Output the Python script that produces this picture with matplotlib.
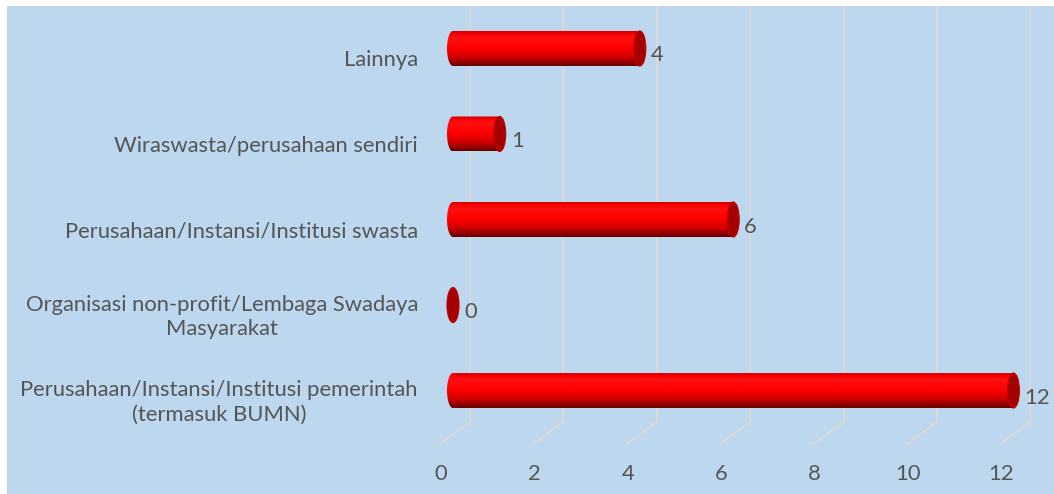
import numpy as np
import matplotlib
matplotlib.use("Agg")
import matplotlib.pyplot as plt
from matplotlib.colors import LinearSegmentedColormap
from matplotlib.patches import Ellipse, Rectangle, PathPatch
from matplotlib.path import Path
from matplotlib.transforms import offset_copy

plt.rcParams['font.family'] = ['Lato', 'DejaVu Sans']

# data (bottom to top)
categories = ["Perusahaan/Instansi/Institusi pemerintah\n(termasuk BUMN)",
              "Organisasi non-profit/Lembaga Swadaya\nMasyarakat",
              "Perusahaan/Instansi/Institusi swasta",
              "Wiraswasta/perusahaan sendiri",
              "Lainnya"]
values = [12, 0, 6, 1, 4]
xticks = [0, 2, 4, 6, 8, 10, 12]

W, H = 1054, 494
bg = '#BDD7EE'
grid_c = '#D9D9D9'
text_c = '#555555'
fs = 15.8

fig = plt.figure(figsize=(W / 100, H / 100), dpi=100, facecolor='white')
fig.patches.append(Rectangle((7 / W, 0), 1, 1 - 6 / H, transform=fig.transFigure,
                             facecolor=bg, edgecolor='none', zorder=-10))

# axes: x=0 at 453px, 46.7 px per unit; y from 422px (bottom) to 7px (top)
px_unit = 46.7
zero_px, left_px, right_px = 453, 430, 1040
ax = fig.add_axes([left_px / W, (H - 422) / H, (right_px - left_px) / W, (422 - 7) / H])
ax.set_xlim(-(zero_px - left_px) / px_unit, (right_px - zero_px) / px_unit)
ax.set_ylim(-0.368, 4.485)
ax.axis('off')
ax.patch.set_alpha(0)

ymin = ax.get_ylim()[0]
ymax = ax.get_ylim()[1]
back = offset_copy(ax.transData, fig=fig, x=17, y=0, units='dots')

# back wall gridlines and floor diagonals
for v in xticks:
    ax.plot([v, v], [ymin, ymax], color=grid_c, lw=1.6, transform=back, clip_on=False, zorder=1)
    start = back.transform((v, ymin))
    end = start + np.array([-30, -22])
    ax.plot([start[0], end[0]], [start[1], end[1]], color=grid_c, lw=1.6,
            transform=None, clip_on=False, zorder=1)
    fx = ax.transData.transform((v, ymin))[0] - 12
    fig.text(fx / W, (H - 474) / H, str(v), ha='center', va='center',
             fontsize=fs, color=text_c)

# cylinders
cmap = LinearSegmentedColormap.from_list('cyl', [
    (0.0, '#CC0000'), (0.1, '#F00000'), (0.2, '#FF1010'), (0.5, '#FF0000'),
    (0.75, '#D00000'), (1.0, '#660000')])
grad = np.linspace(0, 1, 100).reshape(-1, 1)
bh = 35 / 85.5
cw = 12 / px_unit

for i, (cat, v) in enumerate(zip(categories, values)):
    y = i
    if v > 0:
        t = np.linspace(np.pi / 2, 3 * np.pi / 2, 40)
        arc = np.column_stack([cw / 2 * np.cos(t), y + bh / 2 * np.sin(t)])
        verts = np.vstack([[[v, y + bh / 2]], arc, [[v, y - bh / 2]], [[v, y + bh / 2]]])
        codes = [Path.MOVETO] + [Path.LINETO] * (len(verts) - 2) + [Path.CLOSEPOLY]
        clip = PathPatch(Path(verts, codes), facecolor='none', edgecolor='none')
        ax.add_patch(clip)
        im = ax.imshow(grad, cmap=cmap, aspect='auto', origin='upper',
                       extent=(-cw / 2, v, y - bh / 2, y + bh / 2), zorder=3,
                       interpolation='bilinear')
        im.set_clip_path(clip)
    cap = Ellipse((v, y), cw, bh, facecolor='#A50000', edgecolor='#C00000', lw=0.8, zorder=4)
    ax.add_patch(cap)
    ax.annotate(str(v), (v, y), xytext=(cw / 2 * px_unit + 5, -7), textcoords='offset pixels',
                ha='left', va='center', fontsize=fs, color=text_c, zorder=5)
    ly = ax.transData.transform((0, y))[1] - 12
    fig.text(418 / W, ly / H, cat, ha='right', va='center', multialignment='center',
             fontsize=fs, color=text_c, linespacing=1.3)

ax.set_xlim(-(zero_px - left_px) / px_unit, (right_px - zero_px) / px_unit)
ax.set_ylim(ymin, ymax)
fig.savefig('out.png', dpi=100, facecolor='white')
